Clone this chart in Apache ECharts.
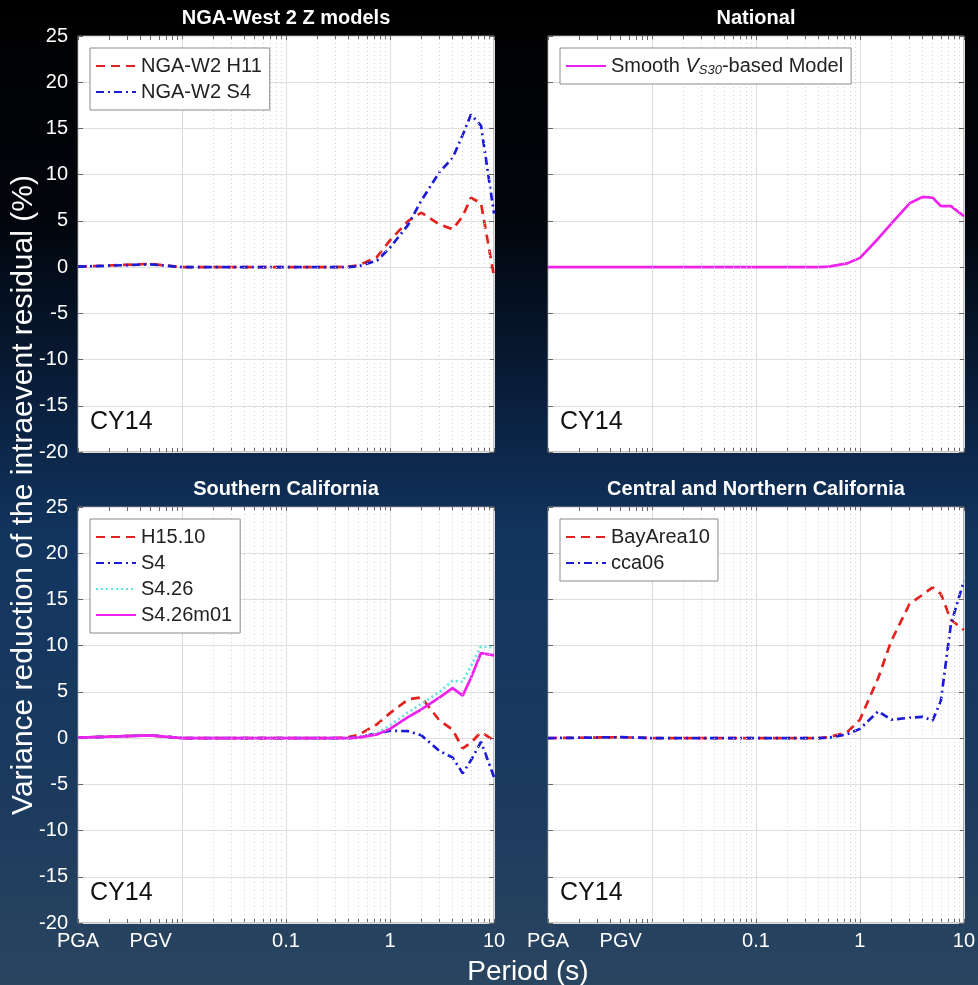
<!DOCTYPE html>
<html>
<head>
<meta charset="utf-8">
<script src="https://cdn.jsdelivr.net/npm/echarts@6/dist/echarts.min.js"></script>
<style>
  html, body { margin: 0; padding: 0; background: #000; }
  #chart { width: 978px; height: 985px; }
</style>
</head>
<body>
<div id="chart"></div>
<script>
// Periods (s); PGA and PGV are placed at 0.001 s and 0.005 s on the log axis
const PERIODS = [0.001, 0.005, 0.01, 0.02, 0.03, 0.05, 0.075, 0.1, 0.15, 0.2, 0.25, 0.3,
                 0.4, 0.5, 0.75, 1, 1.5, 2, 3, 4, 5, 6, 7.5, 10];
const X_LABEL_VALUES = [0.001, 0.005, 0.1, 1, 10];
const X_LABEL_TEXT = ['PGA', 'PGV', '0.1', '1', '10'];
const DECADES = [0.001, 0.01, 0.1, 1, 10];
const MINOR_PERIODS = [0.002, 0.003, 0.004, 0.005, 0.006, 0.007, 0.008, 0.009,
                       0.02, 0.03, 0.04, 0.05, 0.06, 0.07, 0.08, 0.09,
                       0.2, 0.3, 0.4, 0.5, 0.6, 0.7, 0.8, 0.9,
                       2, 3, 4, 5, 6, 7, 8, 9];
const Y_MIN = -20, Y_MAX = 25, Y_STEP = 5;

// Variance reduction of the intraevent residual (%), CY14
const NGA_W2_H11 = [0.05, 0.35, 0, 0, 0, 0, 0, 0, 0, 0, 0, 0, 0.05, 0.2, 1.1, 2.9, 5.0, 5.9, 4.6, 4.1, 5.5, 7.5, 6.9, -1.0];
const NGA_W2_S4  = [0.05, 0.3, 0, 0, 0, 0, 0, 0, 0, 0, 0, 0, 0, 0.1, 0.7, 2.1, 4.6, 7.2, 10.3, 11.8, 14.3, 16.5, 15.3, 5.8];
const SMOOTH_VS30 = [0, 0, 0, 0, 0, 0, 0, 0, 0, 0, 0, 0, 0, 0.05, 0.4, 1.0, 3.1, 4.7, 6.9, 7.6, 7.5, 6.6, 6.6, 5.5];
const H15_10     = [0.05, 0.3, 0, 0, 0, 0, 0, 0, 0, 0, 0, 0, 0.1, 0.35, 1.5, 2.7, 4.2, 4.4, 1.9, 0.9, -1.1, -0.5, 0.65, -0.25];
const SOCAL_S4   = [0.05, 0.3, 0, 0, 0, 0, 0, 0, 0, 0, 0, 0, 0, 0.1, 0.5, 0.8, 0.75, 0.3, -1.4, -2.1, -3.8, -2.4, -0.4, -4.2];
const S4_26      = [0.05, 0.3, 0, 0, 0, 0, 0, 0, 0, 0, 0, 0, 0, 0.1, 0.5, 1.4, 2.8, 3.7, 5.0, 6.2, 6.1, 7.8, 9.9, 9.8];
const S4_26M01   = [0.05, 0.3, 0, 0, 0, 0, 0, 0, 0, 0, 0, 0, 0, 0.05, 0.4, 1.0, 2.3, 3.1, 4.4, 5.4, 4.6, 6.5, 9.2, 8.95];
const BAYAREA10  = [0, 0.1, 0, 0, 0, 0, 0, 0, 0, 0, 0, 0, 0, 0.1, 0.6, 2.0, 6.5, 10.5, 14.5, 15.5, 16.3, 15.6, 12.8, 11.7];
const CCA06      = [0, 0.1, 0, 0, 0, 0, 0, 0, 0, 0, 0, 0, 0, 0.05, 0.4, 1.0, 2.9, 2.0, 2.2, 2.3, 1.9, 4.0, 12.3, 17.0];

const RED = '#e3221f', BLUE = '#1c1cd8', CYAN = '#5fe3e3', MAGENTA = '#ee22ee';
const DASH = [9, 6], DASHDOT = [8, 4, 2, 4], DOT = [2, 3];

const PANELS = [
  { title: 'NGA-West 2 Z models', series: [
      { name: 'NGA-W2 H11', values: NGA_W2_H11, color: RED, type: DASH },
      { name: 'NGA-W2 S4', values: NGA_W2_S4, color: BLUE, type: DASHDOT } ] },
  { title: 'National', series: [
      { name: 'Smooth VS30-based Model', values: SMOOTH_VS30, color: MAGENTA, type: 'solid' } ] },
  { title: 'Southern California', series: [
      { name: 'H15.10', values: H15_10, color: RED, type: DASH },
      { name: 'S4', values: SOCAL_S4, color: BLUE, type: DASHDOT },
      { name: 'S4.26', values: S4_26, color: CYAN, type: DOT },
      { name: 'S4.26m01', values: S4_26M01, color: MAGENTA, type: 'solid' } ] },
  { title: 'Central and Northern California', series: [
      { name: 'BayArea10', values: BAYAREA10, color: RED, type: DASH },
      { name: 'cca06', values: CCA06, color: BLUE, type: DASHDOT } ] }
];

const FONT = '"Liberation Sans", Arial, Helvetica, sans-serif';
const GRID_LEFT = [78, 548], GRID_TOP = [36, 507], SIZE = 416;
const ALL_TICKS = DECADES.concat(MINOR_PERIODS);

function xLabelText(v) {
  let best = 0;
  X_LABEL_VALUES.forEach((t, k) => {
    if (Math.abs(Math.log10(t) - Math.log10(v)) < Math.abs(Math.log10(X_LABEL_VALUES[best]) - Math.log10(v))) best = k;
  });
  return Math.abs(Math.log10(X_LABEL_VALUES[best]) - Math.log10(v)) < 0.01 ? X_LABEL_TEXT[best] : '';
}

const option = {
  animation: false,
  backgroundColor: {
    type: 'linear', x: 0, y: 0, x2: 0, y2: 1,
    colorStops: [
      { offset: 0, color: '#000000' },
      { offset: 0.22, color: '#01050b' },
      { offset: 0.42, color: '#0a2140' },
      { offset: 0.55, color: '#123560' },
      { offset: 0.8, color: '#1b3a5e' },
      { offset: 1, color: '#2a4560' }
    ]
  },
  textStyle: { fontFamily: FONT },
  grid: [], xAxis: [], yAxis: [], series: [], legend: [], title: [],
  graphic: [
    { type: 'text', x: 24, y: 495, rotation: Math.PI / 2,
      style: { text: 'Variance reduction of the intraevent residual (%)', fill: '#fff',
               font: '30px ' + FONT, textAlign: 'center', textVerticalAlign: 'middle' } },
    { type: 'text', x: 528, y: 972,
      style: { text: 'Period (s)', fill: '#fff', font: '28px ' + FONT,
               textAlign: 'center', textVerticalAlign: 'middle' } }
  ]
};

PANELS.forEach((panel, i) => {
  const col = i % 2, row = Math.floor(i / 2);
  const left = GRID_LEFT[col], top = GRID_TOP[row];
  const isBottom = row === 1, isLeft = col === 0;

  option.grid.push({ left: left, top: top, width: SIZE, height: SIZE, show: true,
                     backgroundColor: '#fff', borderColor: '#8a8a8a', borderWidth: 1, z: 0 });

  const tickStyle = { color: '#666', width: 1 };
  const xBase = { type: 'log', logBase: 10, min: 0.001, max: 10, gridIndex: i,
                  axisLine: { show: false, onZero: false } };
  // bottom axis: labels and minor/major ticks
  option.xAxis.push(Object.assign({}, xBase, {
    position: 'bottom',
    splitLine: { show: false },
    axisTick: { show: true, inside: true, length: 4, customValues: ALL_TICKS, lineStyle: tickStyle },
    axisLabel: {
      show: isBottom, color: '#fff', fontSize: 20, margin: 8, fontFamily: FONT,
      customValues: X_LABEL_VALUES,
      formatter: v => xLabelText(v)
    }
  }));
  // top axis: ticks only
  option.xAxis.push(Object.assign({}, xBase, {
    position: 'top', splitLine: { show: false }, axisLabel: { show: false },
    axisTick: { show: true, inside: true, length: 4, customValues: ALL_TICKS, lineStyle: tickStyle }
  }));
  // decade grid lines
  option.xAxis.push(Object.assign({}, xBase, {
    position: 'bottom', axisLabel: { show: false }, axisTick: { show: false },
    splitLine: { show: true, lineStyle: { color: '#dedede', width: 1 } }
  }));

  const yBase = { type: 'value', min: Y_MIN, max: Y_MAX, interval: Y_STEP, gridIndex: i,
                  axisLine: { show: false, onZero: false },
                  axisTick: { show: true, inside: true, length: 5, lineStyle: tickStyle } };
  option.yAxis.push(Object.assign({}, yBase, {
    position: 'left',
    splitLine: { show: true, lineStyle: { color: '#dedede', width: 1 } },
    axisLabel: { show: isLeft, color: '#fff', fontSize: 20, margin: 10, fontFamily: FONT }
  }));
  option.yAxis.push(Object.assign({}, yBase, {
    position: 'right', splitLine: { show: false }, axisLabel: { show: false }
  }));

  // dotted minor grid (2..9 within each decade)
  option.series.push({
    type: 'line', xAxisIndex: 3 * i, yAxisIndex: 2 * i, data: [], silent: true, z: 1,
    markLine: {
      silent: true, symbol: 'none', animation: false,
      lineStyle: { color: '#d2d2d2', type: [1, 3], width: 1 },
      label: { show: false },
      data: MINOR_PERIODS.map(p => ({ xAxis: p }))
    }
  });

  panel.series.forEach(s => {
    option.series.push({
      name: s.name, type: 'line', xAxisIndex: 3 * i, yAxisIndex: 2 * i,
      data: PERIODS.map((p, k) => [p, s.values[k]]),
      symbol: 'none', z: 3,
      lineStyle: { color: s.color, width: 2.7, type: s.type },
      itemStyle: { color: s.color }
    });
  });

  option.legend.push({
    data: panel.series.map(s => s.name),
    left: left + 12, top: top + 12, orient: 'vertical',
    backgroundColor: '#fff', borderColor: '#8a8a8a', borderWidth: 1,
    padding: [5, 8, 5, 5], itemGap: 0, itemWidth: 40, itemHeight: 14,
    selectedMode: false, z: 10,
    itemStyle: { opacity: 0, borderWidth: 0 },
    textStyle: {
      color: '#222', fontSize: 20, lineHeight: 26, fontFamily: FONT,
      rich: {
        r: { fontSize: 20, color: '#222', fontFamily: FONT },
        it: { fontSize: 20, color: '#222', fontStyle: 'italic', fontFamily: FONT },
        sub: { fontSize: 13, color: '#222', fontStyle: 'italic', fontFamily: FONT, padding: [9, 0, 0, 0] }
      }
    },
    formatter: name => name === 'Smooth VS30-based Model'
      ? '{r|Smooth }{it|V}{sub|S30}{r|-based Model}' : name
  });

  option.title.push({
    text: panel.title, left: left + SIZE / 2, textAlign: 'center', top: top - 28, padding: 0,
    textStyle: { color: '#fff', fontSize: 20, fontWeight: 'bold', fontFamily: FONT }
  });
  option.title.push({
    text: 'CY14', left: left + 12, top: top + 374, padding: 0,
    textStyle: { color: '#111', fontSize: 25, fontWeight: 'normal', fontFamily: FONT }
  });
});

const chart = echarts.init(document.getElementById('chart'), null, { renderer: 'canvas' });
chart.setOption(option);
</script>
</body>
</html>
